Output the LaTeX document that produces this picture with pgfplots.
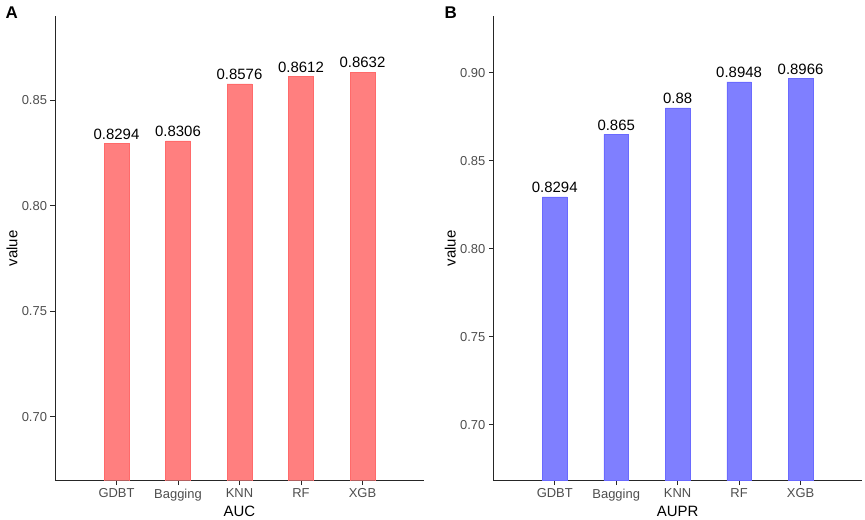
\documentclass[border=0pt]{standalone}
\usepackage{pgfplots}
\pgfplotsset{compat=1.18}
\usetikzlibrary{calc}
\usepackage{fontspec}
\setmainfont{Liberation Sans}
\definecolor{barred}{HTML}{FF7F7F}
\definecolor{barredE}{HTML}{FF6A6A}
\definecolor{barblue}{HTML}{7F7FFF}
\definecolor{barblueE}{HTML}{6A6AFF}
\definecolor{ticklab}{HTML}{4D4D4D}
\pgfplotsset{
  mystyle/.style={
    scale only axis,
    anchor=south west,
    height=464.7bp,
    axis x line=bottom, axis y line=left,
    axis line style={-, line width=0.9bp, black!85},
    tick align=outside,
    major tick length=4.5bp,
    tick style={line width=0.9bp, black!85},
    xmin=0, xmax=6,
    xtick={1,2,3,4,5},
    xticklabels={GDBT,Bagging,KNN,RF,XGB},
    ytick={0.70,0.75,0.80,0.85,0.90},
    /pgf/number format/fixed,
    /pgf/number format/fixed zerofill,
    /pgf/number format/precision=2,
    /pgf/number format/assume math mode=true,
    tick label style={font=\fontsize{13}{13}\selectfont, text=ticklab},
    ylabel={value},
    label style={font=\fontsize{15}{16}\selectfont},
    ylabel style={at={($(axis description cs:0,0.5)+(-43bp,0)$)}, anchor=center},
    xlabel style={at={($(axis description cs:0.5,0)+(0,-31bp)$)}, anchor=center},
    ybar, bar width=0.4,
    point meta=explicit symbolic,
    nodes near coords,
    nodes near coords style={font=\fontsize{15}{15}\selectfont, text=black, anchor=south, yshift=0.5bp},
  }
}
\begin{document}
\begin{tikzpicture}
\useasboundingbox (0,0) rectangle (865bp,520bp);
\begin{axis}[mystyle, at={(55bp,39.3bp)}, width=369bp,
  ymin=0.6697, ymax=0.8898, xlabel={AUC}]
\addplot[fill=barred, draw=barredE, line width=0.4bp] coordinates {
 (1,0.8294) [0.8294]
 (2,0.8306) [0.8306]
 (3,0.8576) [0.8576]
 (4,0.8612) [0.8612]
 (5,0.8632) [0.8632]
};
\end{axis}
\node[font=\fontsize{17}{17}\selectfont\bfseries, anchor=north west] at (2bp,517bp) {A};
\begin{axis}[mystyle, at={(493.3bp,39.3bp)}, width=368.7bp,
  ymin=0.6682, ymax=0.9322, xlabel={AUPR}]
\addplot[fill=barblue, draw=barblueE, line width=0.4bp] coordinates {
 (1,0.8294) [0.8294]
 (2,0.865) [0.865]
 (3,0.88) [0.88]
 (4,0.8948) [0.8948]
 (5,0.8966) [0.8966]
};
\end{axis}
\node[font=\fontsize{17}{17}\selectfont\bfseries, anchor=north west] at (441bp,517bp) {B};
\end{tikzpicture}
\end{document}
